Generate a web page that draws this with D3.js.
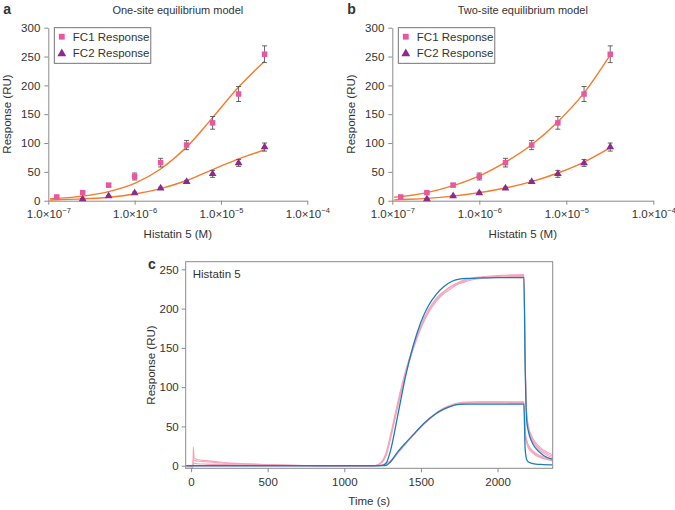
<!DOCTYPE html>
<html>
<head>
<meta charset="utf-8">
<script src="https://cdn.jsdelivr.net/npm/d3@7"></script>
<style>
  body { margin: 0; background: #fff; }
  text { font-family: "Liberation Sans", Arial, sans-serif; fill: #333; }
</style>
</head>
<body>
<div id="chart"></div>
<script>
// ---- panels a & b : equilibrium response vs concentration ----
const conc = [1.25e-7, 2.5e-7, 5e-7, 1e-6, 2e-6, 4e-6, 8e-6, 1.6e-5, 3.2e-5];
const fc1 = [6.5, 14, 27, 42, 66, 96.5, 135, 185, 254];
const fc1Err = [2, 2, 3, 6, 7.5, 8, 11, 13, 14.5];
const fc2 = [null, 3, 8, 13.5, 21.5, 33, 46.5, 65.5, 93];
const fc2Err = [0, 1, 1, 1.5, 2, 2, 6, 6, 7];

// fitted curves
const fitConc = [1.05e-7, 1.25e-7, 2.5e-7, 5e-7, 1e-6, 2e-6, 4e-6, 8e-6, 1.6e-5, 3.2e-5];
const oneSiteFc1 = [3.3, 4, 8, 15.8, 30, 55, 93, 144, 197, 242];
const oneSiteFc2 = [1.3, 1.6, 3.1, 6.1, 11.6, 21, 35, 54, 72.5, 88];
const twoSiteFc1 = [6, 7, 14, 26, 43, 67, 97, 137, 187, 253];
const twoSiteFc2 = [1.5, 2, 4, 8, 14, 22, 33, 48, 67, 92];

const xTicksLog = [1e-7, 1e-6, 1e-5, 1e-4];
const yTicksEq = [0, 50, 100, 150, 200, 250, 300];

// ---- panel c : sensorgram ----
const times = [-30, 0, 12, 15, 20, 40, 100, 200, 300, 500, 800, 1000, 1150, 1200, 1250, 1275, 1300, 1350, 1400, 1450, 1500, 1550, 1600, 1650, 1700, 1750, 1800, 1900, 2000, 2100, 2172, 2180, 2190, 2200, 2225, 2250, 2300, 2360];
const pinkHigh1 = [-3, -3, -2, 24, 10, 8, 6.5, 4.5, 3, 1.5, 0, -0.5, -1, 0, 7, 18, 38, 82, 121, 152, 179, 199, 213, 222, 229, 234, 237.5, 240.5, 242, 243, 243.5, 140, 68, 52, 37, 29, 20, 14];
const pinkHigh2 = [-1, -1, -1, 8, 7, 6, 5, 3.5, 2.5, 1, 0, -0.5, -1, 0, 6, 16, 35, 78, 118, 150, 177, 197, 211, 221, 228, 233, 236.5, 239.5, 241, 242, 242, 138, 66, 50, 35, 27, 18, 12];
const pinkHigh3 = [0, 0, 0, 3, 3, 2.5, 2, 1.5, 1, 0.5, 0, -0.5, -0.5, 0, 5, 14, 33, 76, 116, 148, 175, 195, 209, 219, 226, 231.5, 235, 238.5, 240, 241, 241, 136, 64, 48, 33, 25, 16, 10];
const pinkLow1 = [0, 0, 0, 0, 0, 0, 0, 0, 0, 0, 0, -0.5, -0.5, 0, 1, 3, 6, 17, 28.5, 39.5, 50, 59.5, 67.5, 73.5, 77.5, 80, 81, 81.5, 81.5, 81.5, 81.5, 45, 33, 27, 20, 16, 11, 8];
const pinkLow2 = [0, 0, 0, 0, 0, 0, 0, 0, 0, 0, 0, -0.5, -0.5, 0, 1, 2.5, 5.5, 16.5, 28, 39, 49.5, 59, 67, 73, 77, 79.5, 80.5, 81, 81, 80.5, 80.5, 43, 31, 25, 18.5, 14.5, 10, 7];
const pinkLow3 = [0, 0, 0, 0, 0, 0, 0, 0, 0, 0, 0, -0.5, -0.5, 0, 0.5, 2, 5, 16, 27.5, 38.5, 49, 58, 66, 72, 76, 78.5, 79.5, 80, 80, 79.5, 79.5, 41, 29, 23, 17, 13, 9, 6];
const blueHigh = [0, 0, 0, 0, 0, 0, 0, 0, 0, 0, 0, 0, 0, 0, 0.5, 4, 18, 65, 114, 153, 183, 204, 218, 228, 234.5, 237.5, 238.5, 239, 239.5, 239.5, 239.5, 130, 58, 45, 30, 22, 13, 8];
const blueLow = [0, 0, 0, 0, 0, 0, 0, 0, 0, 0, 0, 0, 0, 0, 0, 0.5, 4.5, 18, 29, 39.5, 50, 59, 66.5, 72, 76, 78, 78.5, 78.5, 78.5, 78.5, 78.5, 22, 8, 5, 3, 2, 1.5, 1];
const timeTicks = [0, 500, 1000, 1500, 2000];
const yTicksSens = [0, 50, 100, 150, 200, 250];

const pink = "#f5a3bb", blue = "#1b7db8";
const fc1Color = "#e9579e", fc2Color = "#8b2b8e", fitColor = "#f47a2c";
const axisColor = "#8a8a8a";

const svg = d3.select("#chart")
  .append("svg")
  .attr("width", 675)
  .attr("height", 510);

function styleAxis(g) {
  g.selectAll(".domain").attr("stroke", axisColor);
  g.selectAll(".tick line").attr("stroke", axisColor);
  g.selectAll(".tick text").attr("font-size", 11.5).attr("fill", "#333")
    .attr("font-family", '"Liberation Sans", Arial, sans-serif');
}

function drawPanel(left, right, letter, title, fitFc1, fitFc2) {
  const x = d3.scaleLog().domain([1e-7, 1e-4]).range([left, right]);
  const y = d3.scaleLinear().domain([0, 300]).range([200.7, 27.7]);

  svg.append("text").attr("x", left - 45).attr("y", 14)
    .attr("font-size", 14).attr("font-weight", "bold").attr("fill", "#222").text(letter);
  svg.append("text").attr("x", (left + right) / 2).attr("y", 14)
    .attr("text-anchor", "middle").attr("font-size", 11).text(title);

  const gx = svg.append("g")
    .attr("transform", `translate(0,${y(0)})`)
    .call(d3.axisBottom(x).tickValues(xTicksLog).tickSize(4).tickSizeOuter(0).tickPadding(5));
  styleAxis(gx);
  gx.selectAll(".tick text").text(null).each(function(d) {
    const t = d3.select(this);
    t.append("tspan").text("1.0×10");
    t.append("tspan").attr("dy", -5).attr("font-size", 7.5)
      .text("\u2212" + Math.abs(Math.round(Math.log10(d))));
  });

  const gy = svg.append("g")
    .attr("transform", `translate(${left},0)`)
    .call(d3.axisLeft(y).tickValues(yTicksEq).tickSize(4).tickSizeOuter(0).tickPadding(4));
  styleAxis(gy);

  svg.append("text").attr("x", (left + right) / 2).attr("y", 238)
    .attr("text-anchor", "middle").attr("font-size", 11.5).text("Histatin 5 (M)");
  svg.append("text")
    .attr("transform", `translate(${left - 37},${114}) rotate(-90)`)
    .attr("text-anchor", "middle").attr("font-size", 11.5).text("Response (RU)");

  const line = d3.line()
    .x((d, i) => x(fitConc[i]))
    .y(d => y(d))
    .curve(d3.curveMonotoneX);
  [fitFc1, fitFc2].forEach(vals => {
    svg.append("path").attr("d", line(vals))
      .attr("fill", "none").attr("stroke", fitColor).attr("stroke-width", 1.4);
  });

  const series = [
    { vals: fc2, err: fc2Err, color: fc2Color, shape: d3.symbolTriangle, size: 26 },
    { vals: fc1, err: fc1Err, color: fc1Color, shape: d3.symbolSquare, size: 30 }
  ];
  series.forEach(s => {
    conc.forEach((c, i) => {
      const v = s.vals[i];
      if (v === null) return;
      const e = s.err[i];
      if (e > 0) {
        const cx = x(c);
        svg.append("line").attr("x1", cx).attr("x2", cx)
          .attr("y1", y(v - e)).attr("y2", y(v + e))
          .attr("stroke", "#555").attr("stroke-width", 0.9);
        [v - e, v + e].forEach(w => {
          svg.append("line").attr("x1", cx - 2.5).attr("x2", cx + 2.5)
            .attr("y1", y(w)).attr("y2", y(w))
            .attr("stroke", "#555").attr("stroke-width", 0.9);
        });
      }
    });
    conc.forEach((c, i) => {
      const v = s.vals[i];
      if (v === null) return;
      svg.append("path")
        .attr("d", d3.symbol().type(s.shape).size(s.size)())
        .attr("transform", `translate(${x(c)},${y(v)})`)
        .attr("fill", s.color);
    });
  });

  // legend
  const lg = svg.append("g").attr("transform", `translate(${left + 6},27.7)`);
  lg.append("rect").attr("x", 0).attr("y", 0).attr("width", 96.5).attr("height", 35.6)
    .attr("fill", "#fff").attr("stroke", "#666").attr("stroke-width", 0.9);
  lg.append("path").attr("d", d3.symbol().type(d3.symbolSquare).size(34)())
    .attr("transform", "translate(7.5,9)").attr("fill", fc1Color);
  lg.append("text").attr("x", 18.5).attr("y", 13).attr("font-size", 11.5).text("FC1 Response");
  lg.append("path").attr("d", d3.symbol().type(d3.symbolTriangle).size(34)())
    .attr("transform", "translate(7.5,26)").attr("fill", fc2Color);
  lg.append("text").attr("x", 18.5).attr("y", 29.5).attr("font-size", 11.5).text("FC2 Response");
}

drawPanel(48.3, 307.3, "a", "One-site equilibrium model", oneSiteFc1, oneSiteFc2);
drawPanel(392.3, 653.3, "b", "Two-site equilibrium model", twoSiteFc1, twoSiteFc2);

// ---- panel c ----
const cLeft = 185.7, cRight = 552.7, cTop = 261.7, cBottom = 468.3;
const xt = d3.scaleLinear().domain([-35, 2360]).range([cLeft, cRight]);
const yr = d3.scaleLinear().domain([-3.3, 259.7]).range([cBottom, cTop]);

svg.append("text").attr("x", 148).attr("y", 269)
  .attr("font-size", 14).attr("font-weight", "bold").attr("fill", "#222").text("c");

const gxc = svg.append("g")
  .attr("transform", `translate(0,${cBottom})`)
  .call(d3.axisBottom(xt).tickValues(timeTicks).tickFormat(d3.format("d"))
    .tickSize(4).tickSizeOuter(0).tickPadding(6));
styleAxis(gxc);
gxc.select(".domain").remove();

const gyc = svg.append("g")
  .attr("transform", `translate(${cLeft},0)`)
  .call(d3.axisLeft(yr).tickValues(yTicksSens).tickSize(4).tickSizeOuter(0).tickPadding(3));
styleAxis(gyc);
gyc.select(".domain").remove();

svg.append("defs").append("clipPath").attr("id", "clipC")
  .append("rect").attr("x", cLeft).attr("y", cTop)
  .attr("width", cRight - cLeft).attr("height", cBottom - cTop);

const sens = d3.line()
  .x((d, i) => xt(times[i]))
  .y(d => yr(d))
  .curve(d3.curveMonotoneX);

const traces = svg.append("g").attr("clip-path", "url(#clipC)");
[pinkLow3, pinkLow2, pinkLow1, pinkHigh3, pinkHigh2, pinkHigh1].forEach(vals => {
  traces.append("path").attr("d", sens(vals))
    .attr("fill", "none").attr("stroke", pink).attr("stroke-width", 1.1);
});
[blueLow, blueHigh].forEach(vals => {
  traces.append("path").attr("d", sens(vals))
    .attr("fill", "none").attr("stroke", blue).attr("stroke-width", 1.3);
});

svg.append("rect").attr("x", cLeft).attr("y", cTop)
  .attr("width", cRight - cLeft).attr("height", cBottom - cTop)
  .attr("fill", "none").attr("stroke", axisColor).attr("stroke-width", 1);

svg.append("text").attr("x", cLeft + 7).attr("y", 278)
  .attr("font-size", 11.5).text("Histatin 5");
svg.append("text").attr("x", (cLeft + cRight) / 2).attr("y", 505)
  .attr("text-anchor", "middle").attr("font-size", 11.5).text("Time (s)");
svg.append("text")
  .attr("transform", `translate(${cLeft - 31},${365}) rotate(-90)`)
  .attr("text-anchor", "middle").attr("font-size", 11.5).text("Response (RU)");
</script>
</body>
</html>
